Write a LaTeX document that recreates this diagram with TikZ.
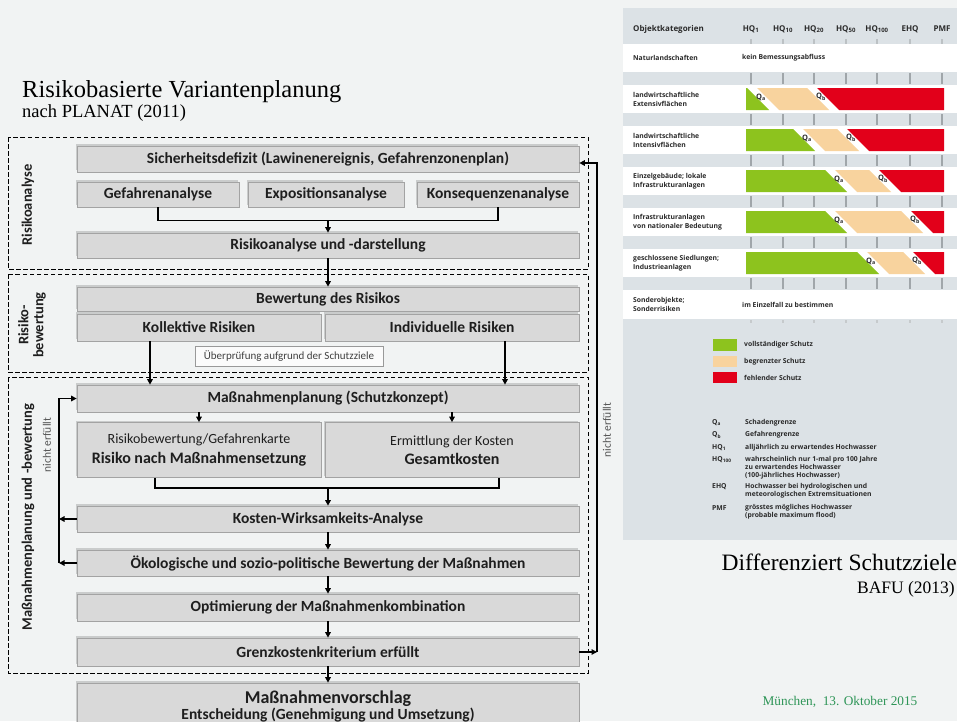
\documentclass[tikz,border=0pt]{standalone}
\usepackage{fontspec}
\setmainfont{Liberation Serif}
\newfontfamily\boxfont{Carlito}
\newfontfamily\panelfont{Open Sans}
\usetikzlibrary{arrows.meta,shadows}

\definecolor{slidebg}{HTML}{F1F3F3}
\definecolor{boxgrey}{HTML}{D9D9D9}
\definecolor{boxedge}{HTML}{A3A3A3}
\definecolor{boxtext}{HTML}{1E1E1E}
\definecolor{notegrey}{HTML}{555555}
\definecolor{bandgrey}{HTML}{DCE2E6}
\definecolor{tickgrey}{HTML}{A0A6AA}
\definecolor{ptextc}{HTML}{2A2A2A}
\definecolor{okgreen}{HTML}{8DC31E}
\definecolor{partbeige}{HTML}{F8D39E}
\definecolor{nored}{HTML}{E2001A}
\definecolor{dategreen}{HTML}{2E9557}

\begin{document}
\begin{tikzpicture}[x=1pt,y=-1pt,
  box/.style={draw=boxedge, fill=boxgrey, line width=0.7pt,
    font=\boxfont\bfseries\fontsize{15.5}{17}\selectfont, text=boxtext,
    inner sep=0pt, align=center,
    drop shadow={shadow xshift=-1.2pt, shadow yshift=1.6pt, opacity=0.3, fill=black!55}},
  ubox/.style={draw=black!40, fill=white!70!slidebg, line width=0.6pt,
    font=\boxfont\fontsize{11}{12}\selectfont, text=black!75, inner sep=0pt},
  frame/.style={draw=black, line width=0.8pt, dash pattern=on 4.5pt off 2.5pt},
  arr/.style={line width=1.5pt, -{Triangle[length=5.5pt,width=5.5pt]}},
  link/.style={line width=1.5pt},
  side/.style={font=\boxfont\bfseries\fontsize{14.5}{15}\selectfont, rotate=90,
    align=center, text=boxtext, inner sep=0pt},
  note/.style={font=\boxfont\fontsize{11.5}{12}\selectfont, rotate=90, text=notegrey, inner sep=0pt},
  ptext/.style={font=\panelfont\bfseries\fontsize{6.8}{9}\selectfont, text=ptextc,
    inner sep=0pt, align=left},
  phead/.style={font=\panelfont\bfseries\fontsize{8}{9}\selectfont, text=ptextc, inner sep=0pt},
  qlab/.style={font=\panelfont\bfseries\fontsize{7.5}{8}\selectfont, text=ptextc, inner sep=0pt},
]
\useasboundingbox (0,0) rectangle (957,721);
\fill[slidebg] (0,0) rectangle (957,721);

% ---------------- titles ----------------
\node[anchor=base west, inner sep=0pt, font=\fontsize{24.5}{27}\selectfont] (title) at (22,97) {Risikobasierte Variantenplanung};
\node[anchor=base west, inner sep=0pt, font=\fontsize{18.5}{21}\selectfont] (subtitle) at (22,117) {nach PLANAT (2011)};

% ---------------- dashed phase frames ----------------
\draw[frame] (8,137) rectangle (588,269);
\draw[frame] (8,274) rectangle (588,372);
\draw[frame] (8,377) rectangle (588,673);

\node[side] (lab1) at (28,205) {Risikoanalyse};
\node[side] (lab2) at (32,325) {Risiko-\\bewertung};
\node[side] (lab3) at (28,517) {Maßnahmenplanung und -bewertung};
\node[note] (nf1) at (47,445) {nicht erfüllt};
\node[note] (nf2) at (607,430) {nicht erfüllt};

% ---------------- process boxes ----------------
\node[box, minimum width=502pt, minimum height=26pt] (sdef) at (328,159) {Sicherheitsdefizit (Lawinenereignis, Gefahrenzonenplan)};
\node[box, minimum width=162pt, minimum height=25pt] (gef) at (158,194.5) {Gefahrenanalyse};
\node[box, minimum width=156pt, minimum height=25pt] (exp) at (326,194.5) {Expositionsanalyse};
\node[box, minimum width=162pt, minimum height=25pt] (kon) at (498,194.5) {Konsequenzenanalyse};
\node[box, minimum width=502pt, minimum height=25pt] (ra) at (328,245.5) {Risikoanalyse und -darstellung};

\node[box, minimum width=502pt, minimum height=24pt] (bew) at (328,299) {Bewertung des Risikos};
\node[box, minimum width=244pt, minimum height=27pt] (koll) at (199,327.5) {Kollektive Risiken};
\node[box, minimum width=254pt, minimum height=27pt] (ind) at (452,327.5) {Individuelle Risiken};
\node[ubox, minimum width=188pt, minimum height=20pt] (ueb) at (289,356) {Überprüfung aufgrund der Schutzziele};

\node[box, minimum width=502pt, minimum height=27pt] (mp) at (328,398.5) {Maßnahmenplanung (Schutzkonzept)};
\node[box, minimum width=244pt, minimum height=55pt] (rb) at (199,450)
  {{\mdseries\fontsize{14}{15}\selectfont Risikobewertung/Gefahrenkarte}\\[2.5pt]{\fontsize{16}{17}\selectfont Risiko nach Maßnahmensetzung}};
\node[box, minimum width=254pt, minimum height=55pt] (ek) at (452,450)
  {{\mdseries\fontsize{14}{15}\selectfont Ermittlung der Kosten}\\[2.5pt]{\fontsize{16}{17}\selectfont Gesamtkosten}};
\node[box, minimum width=502pt, minimum height=26pt] (kw) at (328,519) {Kosten-Wirksamkeits-Analyse};
\node[box, minimum width=502pt, minimum height=26pt] (oek) at (328,563) {Ökologische und sozio-politische Bewertung der Maßnahmen};
\node[box, minimum width=502pt, minimum height=27pt] (opt) at (328,607.5) {Optimierung der Maßnahmenkombination};
\node[box, minimum width=502pt, minimum height=28pt] (gk) at (328,652) {Grenzkostenkriterium erfüllt};
\node[box, minimum width=502pt, minimum height=46pt] (mv) at (328,706)
  {{\fontsize{18}{19}\selectfont Maßnahmenvorschlag}\\[-1pt]{\fontsize{15.5}{16}\selectfont Entscheidung (Genehmigung und Umsetzung)}};

% ---------------- connectors ----------------
\draw[link] (gef.south) -- ++(0,13) coordinate (j1) -| (kon.south);
\draw[arr] (j1 -| ra.north) -- (ra.north);
\draw[arr] (ra.south) -- (bew.north);
\draw[arr] ([xshift=-49pt]koll.south) -- ([xshift=-49pt]koll.south |- mp.north);
\draw[arr] ([xshift=53pt]ind.south) -- ([xshift=53pt]ind.south |- mp.north);
\draw[arr] (mp.south -| rb.north) -- (rb.north);
\draw[arr] (mp.south -| ek.north) -- (ek.north);
\draw[link] ([xshift=-44pt]rb.south) -- ++(0,10) coordinate (j2) -| ([xshift=47pt]ek.south);
\draw[arr] (j2 -| kw.north) -- (kw.north);
\draw[arr] (kw.south) -- (oek.north);
\draw[arr] (oek.south) -- (opt.north);
\draw[arr] (opt.south) -- (gk.north);
\draw[arr] (gk.south) -- (mv.north);

% loop back to the measure planning
\coordinate (lx) at (59,0);
\draw[arr] (kw.west) -- (kw.west -| lx);
\draw[arr] (oek.west) -- (oek.west -| lx);
\draw[arr] (oek.west -| lx) -- (mp.west -| lx) -- (mp.west);

% loop back to the safety deficit
\coordinate (rx) at (597,163);
\draw[arr] (gk.east) -- (gk.east -| rx);
\draw[arr] (gk.east -| rx) -- (rx) -- (rx -| sdef.east);

% ---------------- protection target matrix ----------------
\fill[bandgrey] (623,8) rectangle (957,540);
\foreach \t/\b in {44/72, 85/113, 126/154, 167/195, 208/236, 249/277, 290/319}
  \fill[white] (623,\t) rectangle (957,\b);

% column ticks
\foreach \x in {751,783,814,846,877,910,942} {
  \draw[tickgrey!70, line width=1.2pt] (\x,39) -- (\x,44);
  \foreach \t/\b in {72/85, 113/126, 154/167, 195/208, 236/249, 277/290}
    \draw[tickgrey, line width=2.2pt] (\x,{\t+1}) -- (\x,{\b-1});
  \draw[tickgrey!60, line width=1.2pt] (\x,320) -- (\x,323);
}

% header
\node[phead, anchor=west] (hobj) at (633,29) {Objektkategorien};
\node[phead] (h1) at (751,29) {HQ\textsubscript{1}};
\node[phead] (h2) at (783,29) {HQ\textsubscript{10}};
\node[phead] (h3) at (814,29) {HQ\textsubscript{20}};
\node[phead] (h4) at (846,29) {HQ\textsubscript{50}};
\node[phead] (h5) at (877,29) {HQ\textsubscript{100}};
\node[phead] (h6) at (910,29) {EHQ};
\node[phead] (h7) at (942,29) {PMF};

% row labels
\node[ptext, anchor=west] (r1) at (633,58) {Naturlandschaften};
\node[ptext, anchor=west] (r1b) at (742,58) {kein Bemessungsabfluss};
\node[ptext, anchor=west] (r2) at (633,99) {landwirtschaftliche\\Extensivflächen};
\node[ptext, anchor=west] (r3) at (633,140) {landwirtschaftliche\\Intensivflächen};
\node[ptext, anchor=west] (r4) at (633,181) {Einzelgebäude; lokale\\Infrastrukturanlagen};
\node[ptext, anchor=west] (r5) at (633,222) {Infrastrukturanlagen\\von nationaler Bedeutung};
\node[ptext, anchor=west] (r6) at (633,263) {geschlossene Siedlungen;\\Industrieanlagen};
\node[ptext, anchor=west] (r7) at (633,304.5) {Sonderobjekte;\\Sonderrisiken};
\node[ptext, anchor=west] (r7b) at (742,304.5) {im Einzelfall zu bestimmen};

% protection bars: top edge, end of full protection, end of limited protection
\foreach \t/\a/\b in {88/747/807, 129/793/837, 170/825/869, 211/825/901, 252/857/903} {
  \fill[okgreen] (746,\t) -- (\a,\t) -- ({\a+22},{\t+22}) -- (746,{\t+22}) -- cycle;
  \fill[partbeige] ({\a+10},\t) -- (\b,\t) -- ({\b+22},{\t+22}) -- ({\a+32},{\t+22}) -- cycle;
  \fill[nored] ({\b+10},\t) -- (944,\t) -- (944,{\t+22}) -- ({\b+32},{\t+22}) -- cycle;
  \node[qlab] (qa\t) at ({\a+14},{\t+9}) {Q\textsubscript{a}};
  \node[qlab] (qb\t) at ({\b+14},{\t+9}) {Q\textsubscript{b}};
}

% legend
\fill[okgreen] (713,339) rectangle (737,351);
\fill[partbeige] (713,356) rectangle (737,367);
\fill[nored] (713,372) rectangle (737,383);
\node[ptext, anchor=west] (lg1) at (744,345) {vollständiger Schutz};
\node[ptext, anchor=west] (lg2) at (744,361.5) {begrenzter Schutz};
\node[ptext, anchor=west] (lg3) at (744,377.5) {fehlender Schutz};

% abbreviations
\node[ptext, anchor=west] (k1) at (712,423) {Q\textsubscript{a}};
\node[ptext, anchor=west] (d1) at (745,423) {Schadengrenze};
\node[ptext, anchor=west] (k2) at (712,435) {Q\textsubscript{b}};
\node[ptext, anchor=west] (d2) at (745,435) {Gefahrengrenze};
\node[ptext, anchor=west] (k3) at (712,448) {HQ\textsubscript{1}};
\node[ptext, anchor=west] (d3) at (745,448) {alljährlich zu erwartendes Hochwasser};
\node[ptext, anchor=west] (k4) at (712,460) {HQ\textsubscript{100}};
\node[ptext, anchor=north west, font=\panelfont\bfseries\fontsize{6.8}{8}\selectfont] (d4) at (745,456) {wahrscheinlich nur 1-mal pro 100 Jahre\\zu erwartendes Hochwasser\\(100-jährliches Hochwasser)};
\node[ptext, anchor=west] (k5) at (712,487) {EHQ};
\node[ptext, anchor=north west, font=\panelfont\bfseries\fontsize{6.8}{8}\selectfont] (d5) at (745,483) {Hochwasser bei hydrologischen und\\meteorologischen Extremsituationen};
\node[ptext, anchor=west] (k6) at (712,508) {PMF};
\node[ptext, anchor=north west, font=\panelfont\bfseries\fontsize{6.8}{8}\selectfont] (d6) at (745,504) {grösstes mögliches Hochwasser\\(probable maximum flood)};

% ---------------- right captions ----------------
\node[anchor=base east, inner sep=0pt, font=\fontsize{23.5}{26}\selectfont] (cap) at (957,570) {Differenziert Schutzziele};
\node[anchor=base east, inner sep=0pt, font=\fontsize{17.5}{20}\selectfont] (capsrc) at (955,593) {BAFU (2013)};
\node[inner sep=0pt, text=dategreen, font=\fontsize{13.3}{15}\selectfont] (date) at (840,702) {München,\ \ 13. Oktober 2015};
\end{tikzpicture}
\end{document}
